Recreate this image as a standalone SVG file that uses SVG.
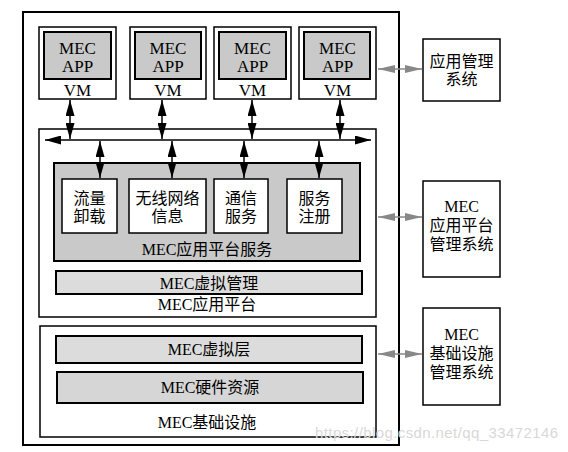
<svg xmlns="http://www.w3.org/2000/svg" width="568" height="452" viewBox="0 0 568 452">
<defs>
<marker id="ah" viewBox="0 0 16 9" refX="16" refY="4.5" markerWidth="16" markerHeight="9" markerUnits="userSpaceOnUse" orient="auto-start-reverse"><path d="M0,0 L16,4.5 L0,9 z" fill="#000"/></marker>
<marker id="gh" viewBox="0 0 17 8" refX="17" refY="4" markerWidth="17" markerHeight="8" markerUnits="userSpaceOnUse" orient="auto-start-reverse"><path d="M0,0 L17,4 L0,8 z" fill="#888"/></marker>
<style>
.t{font-family:"Liberation Serif","Noto Sans CJK SC",serif;font-size:16px;fill:#000;text-anchor:middle}
.m{font-size:17px}
.box{fill:#fff;stroke:#000;stroke-width:1.5}
.gbox{fill:#c9c9c9;stroke:#000;stroke-width:2}
.lbox{fill:#dcdcdc;stroke:#000;stroke-width:2}
.ar{stroke:#000;stroke-width:1.5;fill:none;marker-start:url(#ah);marker-end:url(#ah)}
.ga{stroke:#888;stroke-width:1.5;fill:none;marker-start:url(#gh);marker-end:url(#gh)}
</style>
</defs>
<rect width="568" height="452" fill="#fff"/>
<g id="outer"><rect x="23" y="12" width="376" height="433" fill="none" stroke="#000" stroke-width="2"/></g>
<g id="vm1"><rect class="box" x="39" y="27" width="77" height="72"/><rect class="gbox" x="44" y="32" width="67" height="47"/><text class="t m" x="77.5" y="54">MEC</text><text class="t m" x="77.5" y="72">APP</text><text class="t m" x="77.5" y="96">VM</text></g>
<g id="vm2"><rect class="box" x="130" y="27" width="76" height="72"/><rect class="gbox" x="135" y="32" width="66" height="47"/><text class="t m" x="168" y="54">MEC</text><text class="t m" x="168" y="72">APP</text><text class="t m" x="168" y="96">VM</text></g>
<g id="vm3"><rect class="box" x="214" y="27" width="77" height="72"/><rect class="gbox" x="219" y="32" width="67" height="47"/><text class="t m" x="252.5" y="54">MEC</text><text class="t m" x="252.5" y="72">APP</text><text class="t m" x="252.5" y="96">VM</text></g>
<g id="vm4"><rect class="box" x="299" y="27" width="77" height="72"/><rect class="gbox" x="304" y="32" width="66" height="47"/><text class="t m" x="337.5" y="54">MEC</text><text class="t m" x="337.5" y="72">APP</text><text class="t m" x="337.5" y="96">VM</text></g>
<g id="platform"><rect class="box" x="39" y="129" width="337" height="188"/><text class="t" x="207" y="310">MEC应用平台</text></g>
<g id="services"><rect class="gbox" x="54" y="163" width="306" height="98"/><text class="t" x="207" y="255">MEC应用平台服务</text></g>
<g id="s1"><rect class="box" x="62" y="179" width="55" height="54"/><text class="t" x="89.5" y="204">流量</text><text class="t" x="89.5" y="222">卸载</text></g>
<g id="s2"><rect class="box" x="129" y="179" width="77" height="54"/><text class="t" x="167.5" y="204">无线网络</text><text class="t" x="167.5" y="222">信息</text></g>
<g id="s3"><rect class="box" x="214" y="179" width="54" height="54"/><text class="t" x="241" y="204">通信</text><text class="t" x="241" y="222">服务</text></g>
<g id="s4"><rect class="box" x="287" y="179" width="55" height="54"/><text class="t" x="314.5" y="204">服务</text><text class="t" x="314.5" y="222">注册</text></g>
<g id="vmgmt"><rect class="lbox" x="56" y="271" width="306" height="23"/><text class="t" x="209" y="289">MEC虚拟管理</text></g>
<g id="infra"><rect class="box" x="40" y="326" width="336" height="111"/><text class="t" x="207" y="428">MEC基础设施</text></g>
<g id="vlayer"><rect class="lbox" x="56" y="336" width="306" height="27"/><text class="t" x="209" y="355">MEC虚拟层</text></g>
<g id="hw"><rect class="lbox" x="57" y="372" width="306" height="31" style="fill:#d6d6d6"/><text class="t" x="210" y="393">MEC硬件资源</text></g>
<g id="appmgmt"><rect class="box" x="423" y="39" width="77" height="62"/><text class="t" x="461.5" y="67">应用管理</text><text class="t" x="461.5" y="85">系统</text></g>
<g id="platmgmt"><rect class="box" x="423" y="181" width="77" height="96"/><text class="t" x="461.5" y="212">MEC</text><text class="t" x="461.5" y="231">应用平台</text><text class="t" x="461.5" y="250">管理系统</text></g>
<g id="inframgmt"><rect class="box" x="423" y="308" width="77" height="97"/><text class="t" x="461.5" y="340">MEC</text><text class="t" x="461.5" y="359">基础设施</text><text class="t" x="461.5" y="378">管理系统</text></g>
<g id="connectors">
<line class="ar" x1="45" y1="140" x2="371" y2="140"/>
<line class="ar" x1="70" y1="100" x2="70" y2="139"/>
<line class="ar" x1="162" y1="100" x2="162" y2="139"/>
<line class="ar" x1="252" y1="100" x2="252" y2="139"/>
<line class="ar" x1="340" y1="100" x2="340" y2="139"/>
<line class="ar" x1="100" y1="141" x2="100" y2="178"/>
<line class="ar" x1="172" y1="141" x2="172" y2="178"/>
<line class="ar" x1="244" y1="141" x2="244" y2="178"/>
<line class="ar" x1="319" y1="141" x2="319" y2="178"/>
<line class="ga" x1="378" y1="69" x2="422" y2="69"/>
<line class="ga" x1="378" y1="217" x2="422" y2="217"/>
<line class="ga" x1="378" y1="354" x2="422" y2="354"/>
</g>
<text x="315" y="438" font-family="'Liberation Sans',sans-serif" font-size="15" fill="#d8d8d8" textLength="243">https://blog.csdn.net/qq_33472146</text>
</svg>
